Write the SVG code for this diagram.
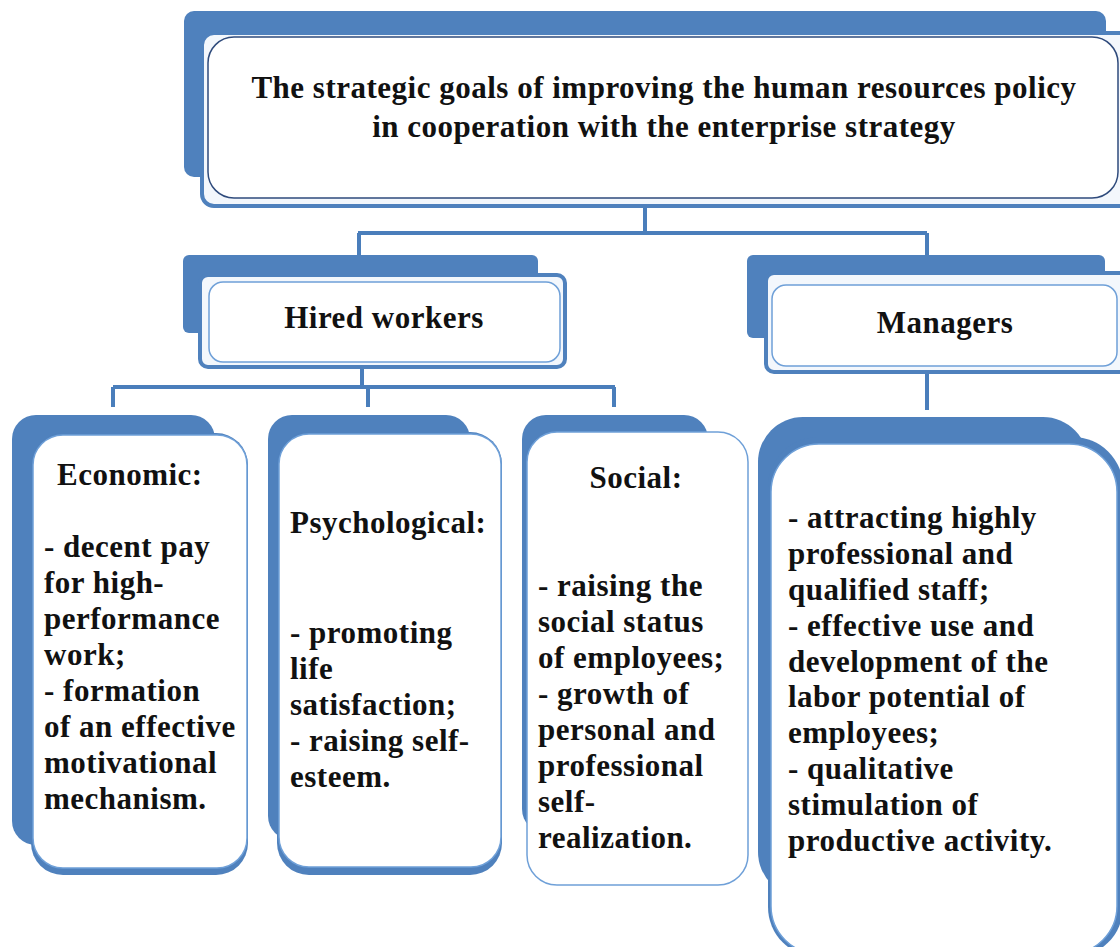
<svg xmlns="http://www.w3.org/2000/svg" width="1120" height="947" viewBox="0 0 1120 947">
<defs>
<style>
.back{fill:#4F81BD}
.band{fill:#4F81BD}
.frame{fill:#F3F7FC;stroke:#4F81BD;stroke-width:4}
.inner{fill:#FFFFFF;stroke:#6FA0D8;stroke-width:1.5}
.innerDark{fill:#FFFFFF;stroke:#2F4B7C;stroke-width:1.5}
.t{font-family:"Liberation Serif","Times New Roman",serif;font-weight:bold;font-size:31px;letter-spacing:0.5px;fill:#111111}
.c{text-anchor:middle}
.conn{fill:none;stroke:#4A7EBB;stroke-width:4}
</style>
</defs>
<rect width="1120" height="947" fill="#FFFFFF"/>
<g id="connectors">
<path class="conn" d="M645 206 V233 M358 233 H927 M359 233 V256 M927 233 V256"/>
<path class="conn" d="M362 367 V387 M113 387 H615 M113 387 V407 M368 387 V407 M614 387 V407"/>
<path class="conn" d="M927 372 V410"/>
</g>
<g id="goal">
<rect class="back" x="184" y="11" width="922" height="166" rx="10"/>
<rect class="frame" x="202" y="33" width="940" height="173" rx="12"/>
<rect class="innerDark" x="208" y="37" width="910" height="161" rx="26"/>
<text class="t c" x="664" y="98">The strategic goals of improving the human resources policy</text>
<text class="t c" x="664" y="137">in cooperation with the enterprise strategy</text>
</g>
<g id="hired">
<rect class="back" x="183" y="255" width="355" height="78" rx="6"/>
<rect class="frame" x="200" y="275" width="365" height="92" rx="8"/>
<rect class="inner" x="209" y="282" width="351" height="80" rx="14"/>
<text class="t c" x="384" y="328">Hired workers</text>
</g>
<g id="managers">
<rect class="back" x="747" y="255" width="358" height="83" rx="6"/>
<rect class="frame" x="766" y="273" width="380" height="99" rx="8"/>
<rect class="inner" x="772" y="285" width="345" height="81" rx="14"/>
<text class="t c" x="945" y="333">Managers</text>
</g>
<g id="economic">
<rect class="back" x="12" y="415" width="203" height="430" rx="24"/>
<rect class="band" x="31" y="433" width="217" height="442" rx="32"/>
<rect class="inner" x="33" y="435" width="214" height="433" rx="30"/>
<text class="t" x="57" y="485">Economic:</text>
<text class="t" x="44" y="557">- decent pay</text>
<text class="t" x="44" y="593">for high-</text>
<text class="t" x="44" y="629">performance</text>
<text class="t" x="44" y="665">work;</text>
<text class="t" x="44" y="701">- formation</text>
<text class="t" x="44" y="737">of an effective</text>
<text class="t" x="44" y="773">motivational</text>
<text class="t" x="44" y="809">mechanism.</text>
</g>
<g id="psychological">
<rect class="back" x="268" y="415" width="202" height="425" rx="24"/>
<rect class="band" x="277" y="432" width="225" height="443" rx="32"/>
<rect class="inner" x="279" y="434" width="222" height="433" rx="30"/>
<text class="t" x="290" y="533">Psychological:</text>
<text class="t" x="290" y="643">- promoting</text>
<text class="t" x="290" y="679">life</text>
<text class="t" x="290" y="715">satisfaction;</text>
<text class="t" x="290" y="751">- raising self-</text>
<text class="t" x="290" y="787">esteem.</text>
</g>
<g id="social">
<rect class="back" x="522" y="415" width="186" height="418" rx="24"/>
<rect class="inner" x="527" y="432" width="221" height="453" rx="30"/>
<text class="t c" x="636" y="488">Social:</text>
<text class="t" x="538" y="596">- raising the</text>
<text class="t" x="538" y="632">social status</text>
<text class="t" x="538" y="668">of employees;</text>
<text class="t" x="538" y="704">- growth of</text>
<text class="t" x="538" y="740">personal and</text>
<text class="t" x="538" y="776">professional</text>
<text class="t" x="538" y="812">self-</text>
<text class="t" x="538" y="848">realization.</text>
</g>
<g id="managers-goals">
<rect class="back" x="758" y="417" width="330" height="480" rx="45"/>
<rect class="band" x="768" y="437" width="355" height="520" rx="50"/>
<rect class="inner" x="771" y="444" width="346" height="510" rx="48"/>
<text class="t" x="788" y="528">- attracting highly</text>
<text class="t" x="788" y="564">professional and</text>
<text class="t" x="788" y="600">qualified staff;</text>
<text class="t" x="788" y="636">- effective use and</text>
<text class="t" x="788" y="672">development of the</text>
<text class="t" x="788" y="707">labor potential of</text>
<text class="t" x="788" y="743">employees;</text>
<text class="t" x="788" y="779">- qualitative</text>
<text class="t" x="788" y="815">stimulation of</text>
<text class="t" x="788" y="851">productive activity.</text>
</g>
</svg>
